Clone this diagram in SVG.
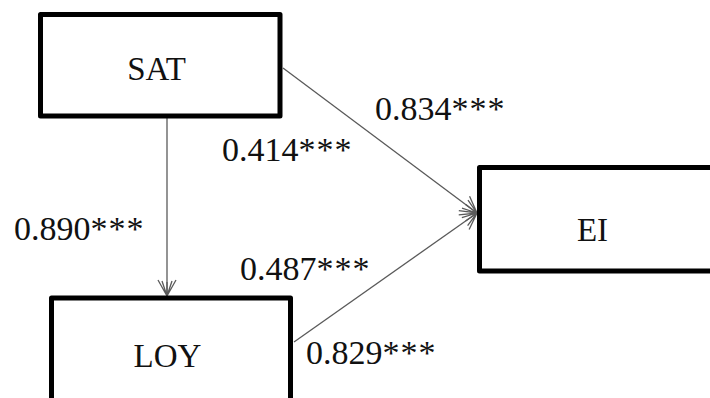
<svg xmlns="http://www.w3.org/2000/svg" width="710" height="398" viewBox="0 0 710 398">
  <style>
    .box { fill: #ffffff; stroke: #000000; stroke-width: 5; stroke-linejoin: round; }
    .label { font-size: 33px; fill: #111111; }
    .coef { font-size: 34px; }
    .stars { letter-spacing: 1px; }
    .node-label { text-anchor: middle; }
    .edge { stroke: #5a5a5a; stroke-width: 1.3; fill: none; marker-end: url(#open-arrow); }
  </style>
  <defs>
    <marker id="open-arrow" markerUnits="userSpaceOnUse" markerWidth="20" markerHeight="22" viewBox="0 0 20 22" refX="18" refY="11" orient="auto">
      <path d="M2,2 L18,11 L2,20 M4,11 L18,11 M3,6 L18,11 M3,16 L18,11" fill="none" stroke="#5a5a5a" stroke-width="1.3"/>
    </marker>
  </defs>

  <rect width="710" height="398" fill="#ffffff"/>

  <!-- paths between constructs -->
  <g id="connectors">
    <line class="edge" x1="167" y1="118" x2="167" y2="296"/>
    <line class="edge" x1="283" y1="68" x2="477" y2="213"/>
    <line class="edge" x1="294" y1="342" x2="477" y2="213"/>
  </g>

  <g font-family="'Liberation Serif', 'DejaVu Serif', 'Times New Roman', serif">
    <g id="node-sat">
      <rect class="box" x="40.5" y="14.5" width="239.5" height="101.5"/>
      <text class="label node-label" x="156.5" y="80">SAT</text>
    </g>

    <g id="node-ei">
      <rect class="box" x="479.5" y="167.5" width="240" height="103.5"/>
      <text class="label node-label" x="592.5" y="240.5">EI</text>
    </g>

    <g id="node-loy">
      <rect class="box" x="51.5" y="298" width="239" height="120"/>
      <text class="label node-label" x="167.5" y="366.5">LOY</text>
    </g>

    <!-- path coefficients -->
    <g id="coefficients">
      <text class="label coef" x="375" y="120">0.834<tspan class="stars">***</tspan></text>
      <text class="label coef" x="222" y="161">0.414<tspan class="stars">***</tspan></text>
      <text class="label coef" x="14" y="240">0.890<tspan class="stars">***</tspan></text>
      <text class="label coef" x="240" y="280">0.487<tspan class="stars">***</tspan></text>
      <text class="label coef" x="306" y="364">0.829<tspan class="stars">***</tspan></text>
    </g>
  </g>
</svg>
